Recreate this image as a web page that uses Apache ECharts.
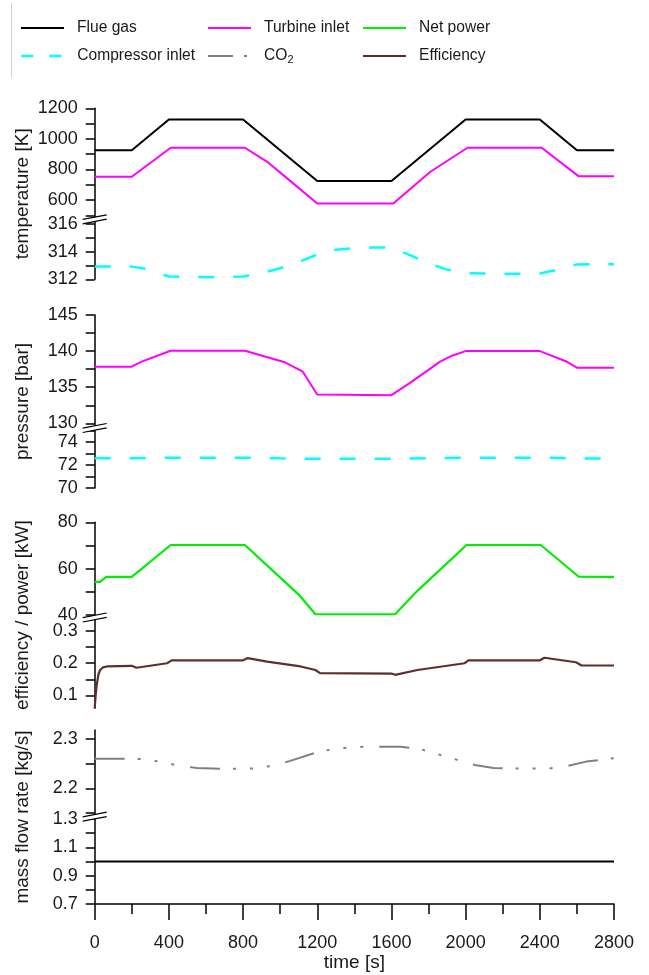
<!DOCTYPE html>
<html>
<head>
<meta charset="utf-8">
<script src="https://cdn.jsdelivr.net/npm/echarts@6/dist/echarts.min.js"></script>
<style>
  html, body { margin: 0; padding: 0; background: #fff; }
  #chart { width: 649px; height: 975px; }
</style>
</head>
<body>
<div id="chart"></div>
<script>
// ---------------- data (time in s) ----------------
// temperatures [K]
const tFlueTemp = [0, 200, 400, 800, 1200, 1600, 2000, 2400, 2600, 2800];
const flueGasTemp = [925, 925, 1127, 1127, 724, 724, 1127, 1127, 925, 925];

const tTurbTemp = [0, 200, 410, 810, 930, 1070, 1200, 1610, 1810, 2010, 2410, 2610, 2800];
const turbineTemp = [752, 752, 942, 942, 850, 709, 578, 578, 785, 942, 942, 755, 755];

const tCompTemp = [0, 200, 280, 400, 600, 800, 900, 1000, 1100, 1200, 1300, 1400, 1500, 1600, 1700, 1800, 1900, 2000, 2200, 2400, 2500, 2600, 2800];
const compressorTemp = [312.92, 312.92, 312.75, 312.2, 312.15, 312.2, 312.45, 312.8, 313.25, 313.8, 314.15, 314.25, 314.3, 314.3, 313.75, 313.15, 312.7, 312.45, 312.38, 312.42, 312.7, 313.08, 313.1];

// pressures [bar]
const tTurbPres = [0, 200, 250, 410, 810, 1020, 1120, 1200, 1600, 1700, 1800, 1860, 1930, 2000, 2400, 2540, 2600, 2800];
const turbinePres = [137.84, 137.84, 138.5, 140.05, 140.05, 138.5, 137.2, 134.0, 133.9, 135.6, 137.4, 138.5, 139.4, 140.0, 140.0, 138.6, 137.7, 137.7];

const tCompPres = [0, 200, 400, 800, 1000, 1200, 1600, 2000, 2400, 2600, 2800];
const compressorPres = [72.57, 72.57, 72.63, 72.63, 72.57, 72.53, 72.53, 72.63, 72.63, 72.56, 72.56];

// net power [kW] and efficiency [-]
const tPower = [0, 30, 60, 200, 410, 810, 1100, 1190, 1620, 1740, 2005, 2405, 2610, 2800];
const netPower = [54.3, 54.3, 56.4, 56.4, 70.2, 70.2, 48.8, 40.3, 40.3, 50.4, 70.2, 70.2, 56.5, 56.4];

const tEff = [0, 5, 11, 20, 29, 45, 65, 200, 225, 390, 415, 800, 825, 930, 1110, 1190, 1215, 1600, 1620, 1740, 1995, 2015, 2400, 2425, 2595, 2625, 2800];
const efficiency = [0.06, 0.1, 0.133, 0.165, 0.179, 0.187, 0.19, 0.192, 0.186, 0.2, 0.209, 0.209, 0.216, 0.205, 0.19, 0.179, 0.169, 0.168, 0.164, 0.179, 0.2, 0.209, 0.209, 0.217, 0.203, 0.193, 0.193];

// mass flow rates [kg/s]
const tCO2 = [0, 200, 250, 350, 450, 550, 700, 850, 950, 1050, 1200, 1280, 1380, 1450, 1650, 1750, 1850, 1950, 2050, 2150, 2250, 2450, 2550, 2650, 2800];
const co2Flow = [2.26, 2.26, 2.259, 2.254, 2.246, 2.241, 2.239, 2.24, 2.245, 2.255, 2.273, 2.279, 2.283, 2.284, 2.284, 2.28, 2.269, 2.258, 2.247, 2.241, 2.24, 2.24, 2.245, 2.254, 2.261];

const tFlueFlow = [0, 2800];
const flueGasFlow = [1.0, 1.0];

// axis ticks
const timeTicks = [0, 400, 800, 1200, 1600, 2000, 2400, 2800];
const tempHighTicks = [600, 800, 1000, 1200];
const tempLowTicks = [312, 314, 316];
const presHighTicks = [130, 135, 140, 145];
const presLowTicks = [70, 72, 74];
const powerTicks = [40, 60, 80];
const effTicks = [0.1, 0.2, 0.3];
const co2Ticks = [2.2, 2.3];
const flueFlowTicks = [0.7, 0.9, 1.1, 1.3];

// minor ticks
const tempHighMinor = [500, 700, 900, 1100];
const tempLowMinor = [313, 315];
const presHighMinor = [132.5, 137.5, 142.5];
const presLowMinor = [71, 73, 75];
const powerMinor = [50, 70];
const effMinor = [0.15, 0.25];
const co2Minor = [2.15, 2.25];
const flueFlowMinor = [0.8, 1.0, 1.2];

// ---------------- layout ----------------
const LEFT = 94.7, WIDTH = 519.3;
const FONT = "'Liberation Sans', Arial, Helvetica, sans-serif";

// each panel is split into an upper and a lower part with a broken axis
const parts = [
  { top: 108.3, height: 110.1, min: 480,    max: 1200,  major: tempHighTicks, minor: tempHighMinor },
  { top: 219.3, height: 60.0,  min: 312,    max: 316.35, major: tempLowTicks, minor: tempLowMinor },
  { top: 315.0, height: 113.0, min: 129.35, max: 145,   major: presHighTicks, minor: presHighMinor },
  { top: 428.0, height: 60.0,  min: 70,     max: 75.2,  major: presLowTicks, minor: presLowMinor },
  { top: 522.3, height: 95.2,  min: 38.9,   max: 80,    major: powerTicks, minor: powerMinor },
  { top: 617.5, height: 90.5,  min: 0.061,  max: 0.342, major: effTicks, minor: effMinor },
  { top: 730.0, height: 86.7,  min: 2.1424, max: 2.318, major: co2Ticks, minor: co2Minor },
  { top: 816.7, height: 87.3,  min: 0.7,    max: 1.316, major: flueFlowTicks, minor: flueFlowMinor }
];

// whole-panel areas carrying the y-axis titles
const panels = [
  { top: 108.3, height: 171.0, name: 'temperature [K]' },
  { top: 315.0, height: 173.0, name: 'pressure [bar]' },
  { top: 522.3, height: 185.7, name: 'efficiency / power [kW]' },
  { top: 730.0, height: 174.0, name: 'mass flow rate [kg/s]' }
];

const fmt = v => String(Math.round(v * 1000) / 1000);

const grids = [], xAxes = [], yAxes = [];
parts.forEach((p, i) => {
  grids.push({ left: LEFT, width: WIDTH, top: p.top, height: p.height });
  const isBottom = i === parts.length - 1;
  xAxes.push({
    type: 'value', gridIndex: i, min: 0, max: 2800, interval: 400,
    show: isBottom, position: 'bottom',
    axisLine: { show: true, onZero: false, lineStyle: { color: '#000', width: 1.5 } },
    axisTick: { show: true, inside: false, length: 16, lineStyle: { color: '#000', width: 1.5 } },
    minorTick: { show: true, splitNumber: 2, length: 10, lineStyle: { color: '#000', width: 1.5 } },
    axisLabel: { show: true, margin: 30, fontSize: 18, color: '#1a1a1a', fontFamily: FONT, formatter: fmt,
                 customValues: timeTicks },
    splitLine: { show: false },
    name: isBottom ? 'time [s]' : '',
    nameLocation: 'middle', nameGap: 47,
    nameTextStyle: { fontSize: 19, color: '#1a1a1a', fontFamily: FONT }
  });
  yAxes.push({
    type: 'value', gridIndex: i, min: p.min, max: p.max, position: 'left',
    axisLine: { show: true, onZero: false, lineStyle: { color: '#000', width: 1.5 } },
    axisTick: { show: true, inside: false, length: 9, customValues: p.major.concat(p.minor),
                lineStyle: { color: '#000', width: 1.5 } },
    axisLabel: { show: true, customValues: p.major, margin: 17, fontSize: 18, color: '#1a1a1a',
                 fontFamily: FONT, formatter: fmt },
    splitLine: { show: false }
  });
});
panels.forEach((p, k) => {
  const gi = parts.length + k;
  grids.push({ left: LEFT, width: WIDTH, top: p.top, height: p.height });
  xAxes.push({ type: 'value', gridIndex: gi, min: 0, max: 1, show: false });
  yAxes.push({
    type: 'value', gridIndex: gi, min: 0, max: 1, position: 'left',
    axisLine: { show: false }, axisTick: { show: false }, axisLabel: { show: false }, splitLine: { show: false },
    name: p.name, nameLocation: 'middle', nameGap: 62,
    nameTextStyle: { fontSize: 19, color: '#1a1a1a', fontFamily: FONT }
  });
});

const pairs = (ts, vs) => ts.map((t, i) => [t, vs[i]]);

const COLORS = {
  flue: '#000000', turbine: '#ff00ff', power: '#00ee00',
  compressor: '#00ffff', co2: '#808080', eff: '#5e2f2f'
};
const CYAN_DASH = [16, 19];
const CO2_DASH = [30, 13, 3, 14, 3, 14, 3, 16];

function line(name, gi, ts, vs, color, width, dash) {
  return {
    type: 'line', name, xAxisIndex: gi, yAxisIndex: gi,
    data: pairs(ts, vs), symbol: 'none', showSymbol: false,
    lineStyle: { color, width, type: dash || 'solid' },
    itemStyle: { color }, z: 3
  };
}

const series = [
  line('Flue gas', 0, tFlueTemp, flueGasTemp, COLORS.flue, 2),
  line('Turbine inlet', 0, tTurbTemp, turbineTemp, COLORS.turbine, 2),
  line('Compressor inlet', 1, tCompTemp, compressorTemp, COLORS.compressor, 2.5, CYAN_DASH),
  line('Turbine inlet', 2, tTurbPres, turbinePres, COLORS.turbine, 2),
  line('Compressor inlet', 3, tCompPres, compressorPres, COLORS.compressor, 2.5, CYAN_DASH),
  line('Net power', 4, tPower, netPower, COLORS.power, 2.2),
  line('Efficiency', 5, tEff, efficiency, COLORS.eff, 2.2),
  line('CO2', 6, tCO2, co2Flow, COLORS.co2, 2, CO2_DASH),
  line('Flue gas', 7, tFlueFlow, flueGasFlow, COLORS.flue, 2)
];

// legend typeface: narrow face if available
function hasFont(face) {
  const c = document.createElement('canvas').getContext('2d');
  c.font = "20px monospace";
  const a = c.measureText('Compressor inlet').width;
  c.font = "20px '" + face + "', monospace";
  return c.measureText('Compressor inlet').width !== a;
}
const narrow = hasFont('Liberation Sans Narrow');
const LEG_FONT = narrow ? "'Liberation Sans Narrow', " + FONT : FONT;
const LEG_SIZE = narrow ? 18.5 : 15.6;

const legendItems = [
  { name: 'Flue gas',         x: 20,  y: 27 },
  { name: 'Turbine inlet',    x: 207, y: 27 },
  { name: 'Net power',        x: 362, y: 27 },
  { name: 'Compressor inlet', x: 20,  y: 55, lineStyle: { type: [12, 16], width: 2.5 } },
  { name: 'CO2',              x: 207, y: 55, lineStyle: { type: [25, 11, 3, 40], width: 2 } },
  { name: 'Efficiency',       x: 362, y: 55 }
];
// thin legend items: the icon is only the line sample, centred on the text
const legends = legendItems.map(it => ({
  data: [Object.assign({ name: it.name, itemStyle: { opacity: 0 } }, it.lineStyle ? { lineStyle: it.lineStyle } : {})],
  left: it.x, top: it.y - 7, padding: 0, orient: 'horizontal',
  itemWidth: 43, itemHeight: 2, selectedMode: false,
  formatter: n => n === 'CO2' ? 'CO{sub|2}' : n,
  textStyle: {
    fontSize: LEG_SIZE, fontFamily: LEG_FONT, color: '#1a1a1a', padding: [0, 0, 0, 8],
    rich: { sub: { fontSize: LEG_SIZE * 0.7, fontFamily: LEG_FONT, color: '#1a1a1a', padding: [8, 0, 0, 0] } }
  }
}));

// axis-break markers between the upper and lower part of each panel
const breakYs = [1, 3, 5, 7].map(i => parts[i].top);
const graphics = [];
breakYs.forEach(y => {
  const x0 = LEFT - 12, x1 = LEFT + 12, d = 2.2, s = 2.3;
  graphics.push({
    type: 'polygon', z: 100,
    shape: { points: [[x0, y + s - d], [x1, y - s - d], [x1, y - s + d], [x0, y + s + d]] },
    style: { fill: '#fff', stroke: null }
  });
  graphics.push({ type: 'line', z: 101, shape: { x1: x0, y1: y + s - d, x2: x1, y2: y - s - d },
                  style: { stroke: '#000', lineWidth: 1.2 } });
  graphics.push({ type: 'line', z: 101, shape: { x1: x0, y1: y + s + d, x2: x1, y2: y - s + d },
                  style: { stroke: '#000', lineWidth: 1.2 } });
});
// left border of the legend frame
graphics.push({ type: 'line', z: 100, shape: { x1: 11.5, y1: 3, x2: 11.5, y2: 78 },
                style: { stroke: '#d0d0d0', lineWidth: 1 } });

const chart = echarts.init(document.getElementById('chart'), null, { renderer: 'canvas' });
chart.setOption({
  backgroundColor: '#fff',
  animation: false,
  grid: grids,
  xAxis: xAxes,
  yAxis: yAxes,
  legend: legends,
  series: series,
  graphic: graphics
});
</script>
</body>
</html>
